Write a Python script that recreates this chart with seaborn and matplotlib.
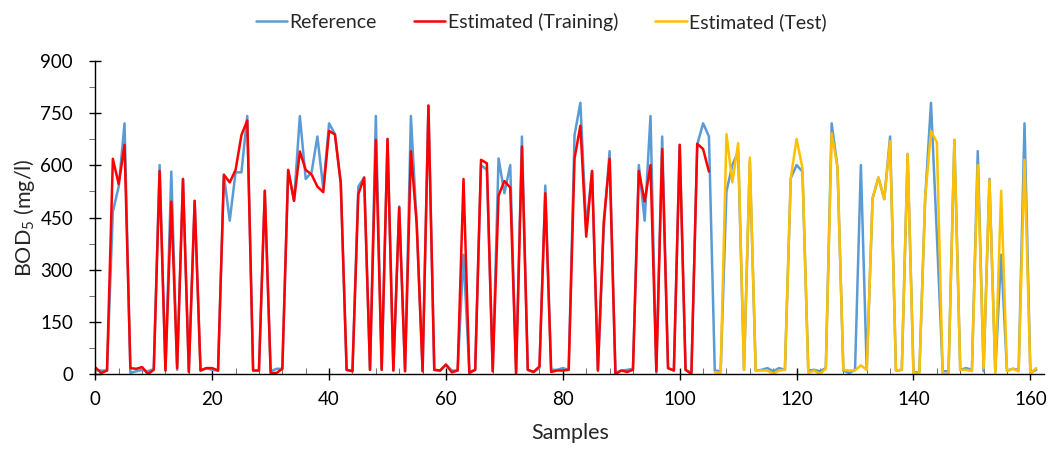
import numpy as np
import pandas as pd
import matplotlib
matplotlib.use("Agg")
import matplotlib.pyplot as plt
from matplotlib.ticker import MultipleLocator
import seaborn as sns

# BOD5 values
reference = [
    12, 10, 10, 467, 539, 721, 3, 8, 12, 8, 14, 601, 10, 582, 12, 561, 6, 498, 10, 17, 12,
    10, 573, 441, 580, 580, 742, 10, 10, 527, 8, 15, 15, 587, 498, 742, 561, 580, 683, 534, 721,
    690, 549, 12, 8, 539, 565, 12, 742, 12, 676, 10, 482, 8, 742, 430, 8, 772, 12, 10, 27,
    10, 10, 343, 6, 12, 601, 587, 8, 620, 520, 601, 6, 683, 12, 6, 17, 542, 12, 12, 17,
    12, 687, 780, 420, 584, 10, 419, 641, 4, 10, 12, 15, 601, 441, 742, 4, 683, 17, 10, 659,
    12, 4, 660, 721, 683, 10, 8, 525, 601, 640, 12, 610, 10, 12, 17, 8, 17, 12, 563, 601,
    582, 10, 12, 8, 17, 721, 594, 10, 3, 12, 601, 12, 505, 565, 503, 683, 10, 12, 633, 5,
    4, 505, 780, 400, 8, 8, 673, 12, 17, 12, 641, 8, 561, 8, 343, 10, 15, 12, 721, 4, 12,
]
est_training = [
    19, 3, 10, 619, 546, 659, 17, 15, 20, 0, 12, 584, 10, 496, 17, 561, 6, 498, 10, 17, 17,
    10, 573, 551, 587, 687, 729, 10, 10, 527, 3, 3, 15, 587, 498, 640, 587, 574, 539, 523, 699,
    689, 549, 12, 8, 517, 565, 12, 673, 12, 676, 10, 479, 8, 641, 430, 8, 772, 12, 10, 27,
    5, 10, 561, 3, 12, 616, 606, 8, 513, 555, 536, 0, 654, 12, 6, 22, 520, 6, 10, 10,
    12, 620, 714, 395, 584, 10, 438, 619, 0, 10, 6, 12, 584, 496, 601, 8, 647, 17, 10, 659,
    12, 0, 662, 647, 582,
]
est_test = [
    5, 3, 690, 551, 664, 12, 622, 10, 10, 10, 0, 10, 12, 563, 676, 592, 3, 10, 0, 15,
    692, 594, 12, 10, 10, 25, 12, 505, 565, 503, 670, 10, 12, 633, 3, 0, 505, 699, 666, 0,
    0, 673, 12, 12, 8, 601, 17, 558, 3, 527, 8, 15, 8, 616, 0, 17,
]

samples = np.arange(len(reference))
train_idx = samples[:len(est_training)]
test_idx = samples[len(est_training):len(est_training) + len(est_test)]

sns.set_style("ticks")
plt.rcParams['font.family'] = ['Lato', 'DejaVu Sans']
plt.rcParams['mathtext.fontset'] = 'custom'
plt.rcParams['mathtext.rm'] = 'Lato'

fig = plt.figure(figsize=(10.51, 4.49), dpi=100)
ax = fig.add_axes([0.0907, 0.167, 0.903, 0.697])

sns.lineplot(x=samples, y=reference, color="#5B9BD5", linewidth=1.8, label="Reference", ax=ax)
sns.lineplot(x=train_idx, y=est_training, color="#FF0000", linewidth=1.8,
             label="Estimated (Training)", ax=ax)
sns.lineplot(x=test_idx, y=est_test, color="#FFC000", linewidth=1.8,
             label="Estimated (Test)", ax=ax)

ax.set_xlim(0, 162.4)
ax.set_ylim(0, 900)
ax.xaxis.set_major_locator(MultipleLocator(20))
ax.xaxis.set_minor_locator(MultipleLocator(4))
ax.yaxis.set_major_locator(MultipleLocator(150))
ax.yaxis.set_minor_locator(MultipleLocator(75))
ax.tick_params(axis='both', which='major', direction='inout', length=8, width=1,
               labelsize=13.5, colors='black')
ax.tick_params(axis='x', which='major', pad=8)
ax.tick_params(axis='y', which='major', pad=12)
ax.tick_params(axis='x', which='minor', direction='in', length=4, color='#595959')
ax.tick_params(axis='y', which='minor', direction='out', length=4, color='#595959')
for side in ['top', 'right']:
    ax.spines[side].set_visible(False)
for side in ['left', 'bottom']:
    ax.spines[side].set_linewidth(1)
    ax.spines[side].set_color('black')

ax.set_xlabel("Samples", fontsize=15.5, labelpad=11)
ax.set_ylabel(r"BOD$_5$ (mg/l)", fontsize=15.5, labelpad=2)

ax.legend(loc='center', bbox_to_anchor=(0.47, 1.125), ncol=3, frameon=False,
          fontsize=14, handlelength=1.6, handletextpad=0.15, columnspacing=1.9)

fig.savefig("out.png", dpi=100)
